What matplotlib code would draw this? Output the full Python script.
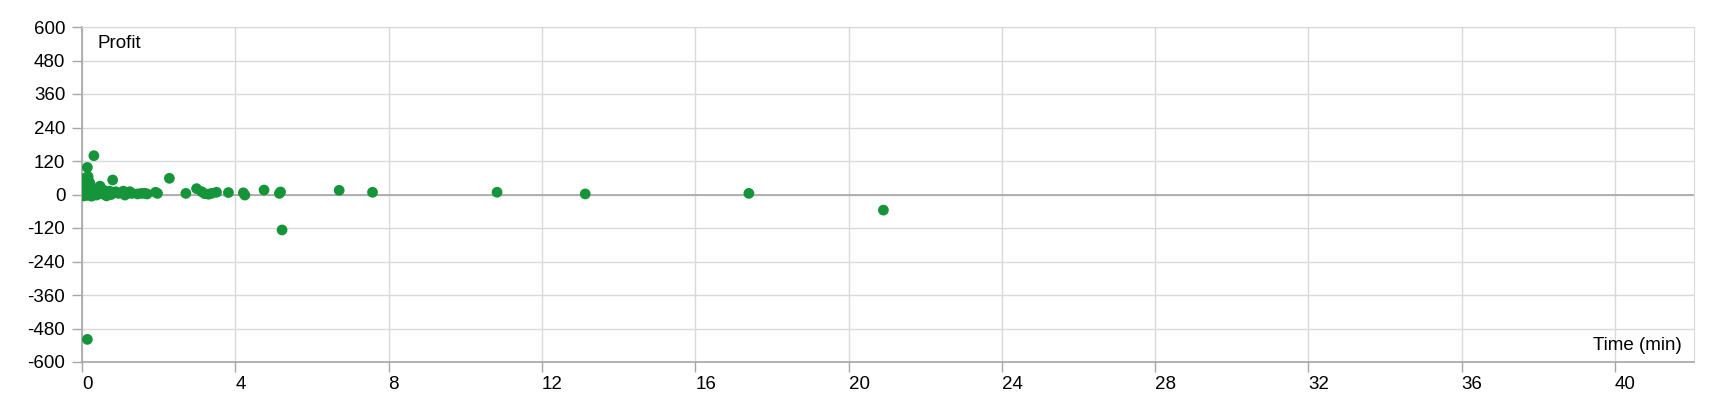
import matplotlib
matplotlib.use("Agg")
import matplotlib.pyplot as plt

# -------------------------
# DATA
# -------------------------
time_min = [
    0.02, 0.03, 0.04, 0.05, 0.06, 0.07, 0.08, 0.09, 0.10, 0.11,
    0.12, 0.13, 0.14, 0.15, 0.16, 0.17, 0.18, 0.19, 0.20, 0.21,
    0.22, 0.24, 0.25, 0.26, 0.28, 0.30, 0.32, 0.35, 0.38, 0.40,
    0.43, 0.47, 0.50, 0.53, 0.57, 0.60, 0.64, 0.68, 0.72, 0.76,
    0.80, 0.82, 0.88, 0.95, 1.02, 1.08, 1.12, 1.18, 1.25, 1.30,
    1.45, 1.55, 1.64, 1.70, 1.92, 1.97,
    0.14, 0.31, 0.14, 2.28, 2.71, 2.99, 3.12, 3.20, 3.30, 3.38,
    3.51, 3.82, 4.21, 4.25, 4.75, 5.15, 5.18, 5.22, 6.71, 7.58,
    10.83, 13.13, 17.40, 20.91,
]
profit = [
    5, 20, 35, -5, 50, 12, 28, 2, 60, 42,
    18, -3, 8, 30, 64, 22, 0, 45, 14, 38,
    5, 25, -6, 10, 18, 3, 8, 12, -2, 20,
    6, 30, 10, 2, 15, 5, -5, 8, 12, 0,
    52, 6, 10, 4, 6, 12, -2, 3, 10, 4,
    2, 4, 4, 2, 8, 4,
    97, 139, -519, 58, 4, 21, 10, 3, 1, 4,
    8, 7, 6, -2, 16, 4, 9, -127, 15, 8,
    8, 2, 4, -56,
]

x_ticks = list(range(0, 41, 4))
y_ticks = list(range(-600, 601, 120))

# -------------------------
# STYLE
# -------------------------
GREEN = "#16943a"
GRID = "#d9d9d9"
AXIS = "#a6a6a6"
plt.rcParams["font.family"] = ["Liberation Sans", "DejaVu Sans"]
plt.rcParams["font.size"] = 13.5

# -------------------------
# PLOT
# -------------------------
fig = plt.figure(figsize=(17.2, 4.0), dpi=100)
ax = fig.add_axes([82 / 1720, 1 - 362 / 400, (1694 - 82) / 1720, (362 - 27) / 400])

ax.set_xlim(0, 42.06)
ax.set_ylim(-600, 600)
ax.set_xticks(x_ticks)
ax.set_yticks(y_ticks)
ax.set_xticklabels([str(t) for t in x_ticks])
ax.set_yticklabels([str(t) for t in y_ticks])

ax.grid(True, color=GRID, linewidth=1)
ax.set_axisbelow(True)
ax.axhline(0, color=AXIS, linewidth=1.2, zorder=1)

for side in ["top", "right"]:
    ax.spines[side].set_color(GRID)
for side in ["left", "bottom"]:
    ax.spines[side].set_color(AXIS)
    ax.spines[side].set_linewidth(1.2)

ax.tick_params(axis="both", color=AXIS, length=7, width=1, labelcolor="black")
ax.tick_params(axis="x", pad=3)
ax.tick_params(axis="y", pad=5)
plt.setp(ax.get_xticklabels(), ha="left")

ax.scatter(time_min, profit, s=60, color=GREEN, edgecolors="none", zorder=3)

ax.text(0.0095, 0.975, "Profit", transform=ax.transAxes, ha="left", va="top")
ax.text(0.9926, 0.036, "Time (min)", transform=ax.transAxes, ha="right", va="baseline")

fig.savefig("out.png", dpi=100)
plt.close(fig)
